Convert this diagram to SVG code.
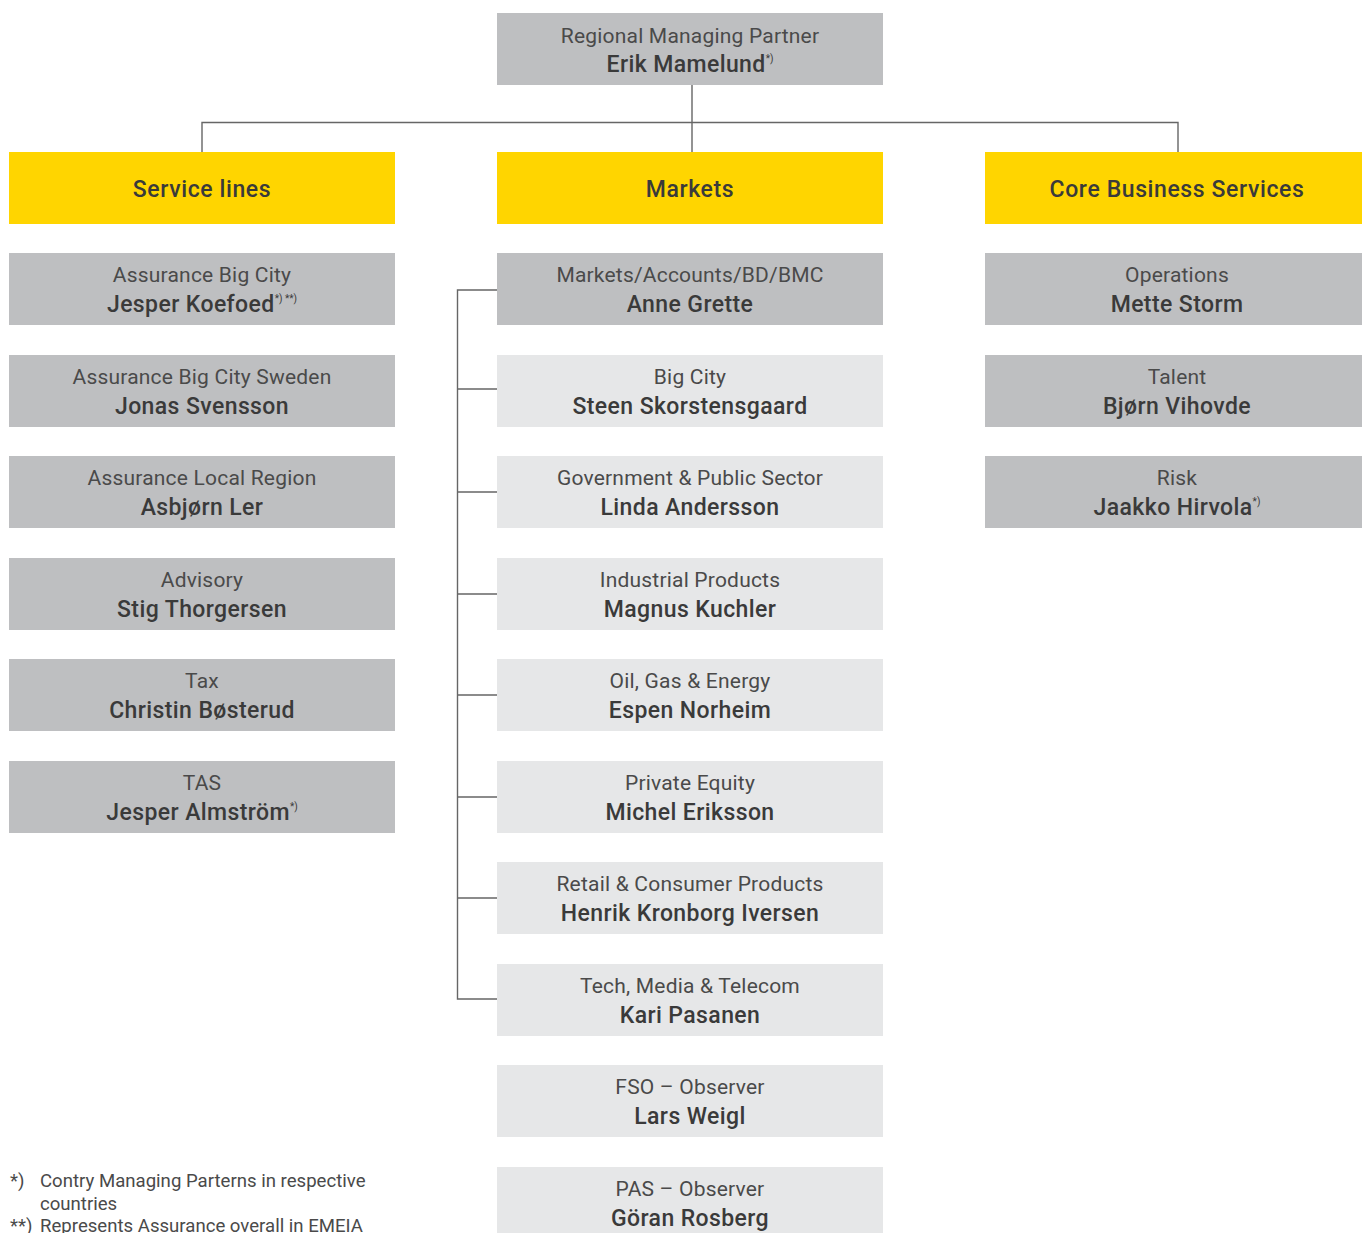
<svg xmlns="http://www.w3.org/2000/svg" width="1362" height="1233" viewBox="0 0 1362 1233">
<style>
.dk{fill:#BEBFC1}
.lt{fill:#E6E7E8}
.yl{fill:#FFD500}
text{font-family:Roboto,"Liberation Sans",sans-serif;text-anchor:middle}
.r{font-size:21px;font-weight:400;fill:#4a4a4a;letter-spacing:0.2px}
.n{font-size:23px;font-weight:500;fill:#3a3a3a;letter-spacing:0.4px}
.h{font-size:23px;font-weight:500;fill:#3a3a3a;letter-spacing:0.6px}
.s{font-size:10px;font-weight:400;letter-spacing:0}
.f{font-size:18.6px;font-weight:400;fill:#4a4a4a;text-anchor:start}
.c{fill:none;stroke:#666;stroke-width:1.4}
</style>
<g id="connectors">
<path class="c" d="M692 85V152M202 152V122.5H1178V152"/>
<path class="c" d="M497 290H457.5V999H497M457.5 389H497M457.5 492H497M457.5 594H497M457.5 695H497M457.5 797H497M457.5 898H497"/>
</g>
<g id="n-top"><rect class="dk" x="497" y="13" width="386" height="72"/><text class="r" x="690" y="43">Regional Managing Partner</text><text class="n" x="690" y="72">Erik Mamelund<tspan class="s" dy="-10">*)</tspan></text></g>
<g id="n-service"><rect class="yl" x="9" y="152" width="386" height="72"/><text class="h" x="202" y="197">Service lines</text></g>
<g id="n-markets"><rect class="yl" x="497" y="152" width="386" height="72"/><text class="h" x="690" y="197">Markets</text></g>
<g id="n-core"><rect class="yl" x="985" y="152" width="377" height="72"/><text class="h" x="1177" y="197">Core Business Services</text></g>

<g id="n-s1"><rect class="dk" x="9" y="253" width="386" height="72"/><text class="r" x="202" y="282">Assurance Big City</text><text class="n" x="202" y="312">Jesper Koefoed<tspan class="s" dy="-10">*) **)</tspan></text></g>
<g id="n-s2"><rect class="dk" x="9" y="355" width="386" height="72"/><text class="r" x="202" y="384">Assurance Big City Sweden</text><text class="n" x="202" y="414">Jonas Svensson</text></g>
<g id="n-s3"><rect class="dk" x="9" y="456" width="386" height="72"/><text class="r" x="202" y="485">Assurance Local Region</text><text class="n" x="202" y="515">Asbjørn Ler</text></g>
<g id="n-s4"><rect class="dk" x="9" y="558" width="386" height="72"/><text class="r" x="202" y="587">Advisory</text><text class="n" x="202" y="617">Stig Thorgersen</text></g>
<g id="n-s5"><rect class="dk" x="9" y="659" width="386" height="72"/><text class="r" x="202" y="688">Tax</text><text class="n" x="202" y="718">Christin Bøsterud</text></g>
<g id="n-s6"><rect class="dk" x="9" y="761" width="386" height="72"/><text class="r" x="202" y="790">TAS</text><text class="n" x="202" y="820">Jesper Almström<tspan class="s" dy="-10">*)</tspan></text></g>

<g id="n-m1"><rect class="dk" x="497" y="253" width="386" height="72"/><text class="r" x="690" y="282">Markets/Accounts/BD/BMC</text><text class="n" x="690" y="312">Anne Grette</text></g>
<g id="n-m2"><rect class="lt" x="497" y="355" width="386" height="72"/><text class="r" x="690" y="384">Big City</text><text class="n" x="690" y="414">Steen Skorstensgaard</text></g>
<g id="n-m3"><rect class="lt" x="497" y="456" width="386" height="72"/><text class="r" x="690" y="485">Government &amp; Public Sector</text><text class="n" x="690" y="515">Linda Andersson</text></g>
<g id="n-m4"><rect class="lt" x="497" y="558" width="386" height="72"/><text class="r" x="690" y="587">Industrial Products</text><text class="n" x="690" y="617">Magnus Kuchler</text></g>
<g id="n-m5"><rect class="lt" x="497" y="659" width="386" height="72"/><text class="r" x="690" y="688">Oil, Gas &amp; Energy</text><text class="n" x="690" y="718">Espen Norheim</text></g>
<g id="n-m6"><rect class="lt" x="497" y="761" width="386" height="72"/><text class="r" x="690" y="790">Private Equity</text><text class="n" x="690" y="820">Michel Eriksson</text></g>
<g id="n-m7"><rect class="lt" x="497" y="862" width="386" height="72"/><text class="r" x="690" y="891">Retail &amp; Consumer Products</text><text class="n" x="690" y="921">Henrik Kronborg Iversen</text></g>
<g id="n-m8"><rect class="lt" x="497" y="964" width="386" height="72"/><text class="r" x="690" y="993">Tech, Media &amp; Telecom</text><text class="n" x="690" y="1023">Kari Pasanen</text></g>
<g id="n-m9"><rect class="lt" x="497" y="1065" width="386" height="72"/><text class="r" x="690" y="1094">FSO – Observer</text><text class="n" x="690" y="1124">Lars Weigl</text></g>
<g id="n-m10"><rect class="lt" x="497" y="1167" width="386" height="72"/><text class="r" x="690" y="1196">PAS – Observer</text><text class="n" x="690" y="1226">Göran Rosberg</text></g>

<g id="n-c1"><rect class="dk" x="985" y="253" width="377" height="72"/><text class="r" x="1177" y="282">Operations</text><text class="n" x="1177" y="312">Mette Storm</text></g>
<g id="n-c2"><rect class="dk" x="985" y="355" width="377" height="72"/><text class="r" x="1177" y="384">Talent</text><text class="n" x="1177" y="414">Bjørn Vihovde</text></g>
<g id="n-c3"><rect class="dk" x="985" y="456" width="377" height="72"/><text class="r" x="1177" y="485">Risk</text><text class="n" x="1177" y="515">Jaakko Hirvola<tspan class="s" dy="-10">*)</tspan></text></g>

<g id="footnotes">
<text class="f" x="10" y="1187">*)</text><text class="f" x="40" y="1187">Contry Managing Parterns in respective</text>
<text class="f" x="40" y="1210">countries</text>
<text class="f" x="10" y="1232">**)</text><text class="f" x="40" y="1232">Represents Assurance overall in EMEIA</text>
</g>
</svg>
